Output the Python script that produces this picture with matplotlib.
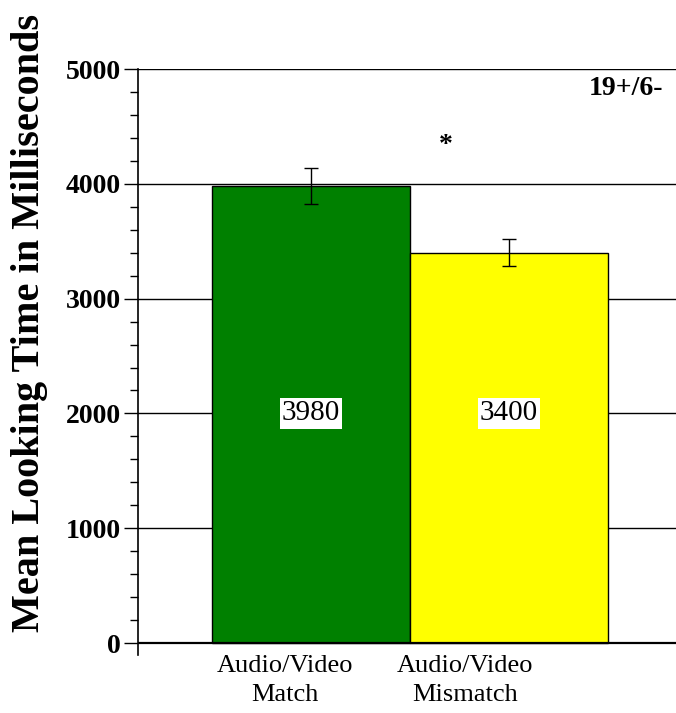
import matplotlib
matplotlib.use('Agg')
import matplotlib.pyplot as plt
from matplotlib.ticker import MultipleLocator

conditions = ['Audio/Video\nMatch', 'Audio/Video\nMismatch']
mean_times = [3980, 3400]
errors = [160, 120]
bar_colors = ['#008000', '#ffff00']
y_ticks = [0, 1000, 2000, 3000, 4000, 5000]
count_note = '19+/6-'
star_y = 4330
note_y = 4830

serif = ['Liberation Serif', 'DejaVu Serif']

fig = plt.figure(figsize=(6.76, 7.13), dpi=100)
ax = fig.add_axes([0.204, 0.082, 0.796, 0.8212])

x = list(range(len(mean_times)))
ax.bar(x, mean_times, width=1.0, color=bar_colors, edgecolor='black',
       linewidth=1.0, zorder=2)
ax.errorbar(x, mean_times, yerr=errors, fmt='none', ecolor='black',
            elinewidth=1.0, capsize=5, capthick=1.0, zorder=3)

# horizontal rules behind the bars, including the top one at 5000
for yv in y_ticks[1:]:
    ax.axhline(yv, color='black', linewidth=1.0, zorder=1)
ax.axhline(0, color='black', linewidth=1.6, zorder=4)

for xi, v in zip(x, mean_times):
    ax.text(xi, 2000, f'{v}', ha='center', va='center', fontsize=21,
            family=serif, zorder=5,
            bbox=dict(boxstyle='square,pad=0.08', fc='white', ec='none'))

ax.text(0.68, star_y, '*', ha='center', va='center', fontsize=20,
        fontweight='bold', family=serif)
ax.text(1.59, note_y, count_note, ha='center', va='center', fontsize=20,
        fontweight='bold', family=serif)

ax.set_xlim(-0.874, 1.843)
ax.set_ylim(-100, 5000)
ax.set_yticks(y_ticks)
ax.yaxis.set_minor_locator(MultipleLocator(200))
ax.set_yticklabels([str(t) for t in y_ticks], fontsize=20,
                   fontweight='bold', family=serif)
# labels sit a little left of the bar centres in the original
ax.set_xticks([xi - 0.13 - 0.09 * xi for xi in x])
ax.set_xticklabels(conditions, fontsize=19, family=serif, linespacing=1.45)
ax.tick_params(axis='x', length=0, pad=0)
ax.tick_params(axis='y', which='major', length=10, width=1.0, pad=2)
ax.tick_params(axis='y', which='minor', length=6, width=1.0)

for side in ['top', 'right', 'bottom']:
    ax.spines[side].set_visible(False)
ax.spines['left'].set_linewidth(1.2)

fig.text(0.044, 0.547, 'Mean Looking Time in Milliseconds', rotation=90,
         ha='center', va='center', fontsize=29, fontweight='bold', family=serif)

fig.savefig('out.png', dpi=100)
